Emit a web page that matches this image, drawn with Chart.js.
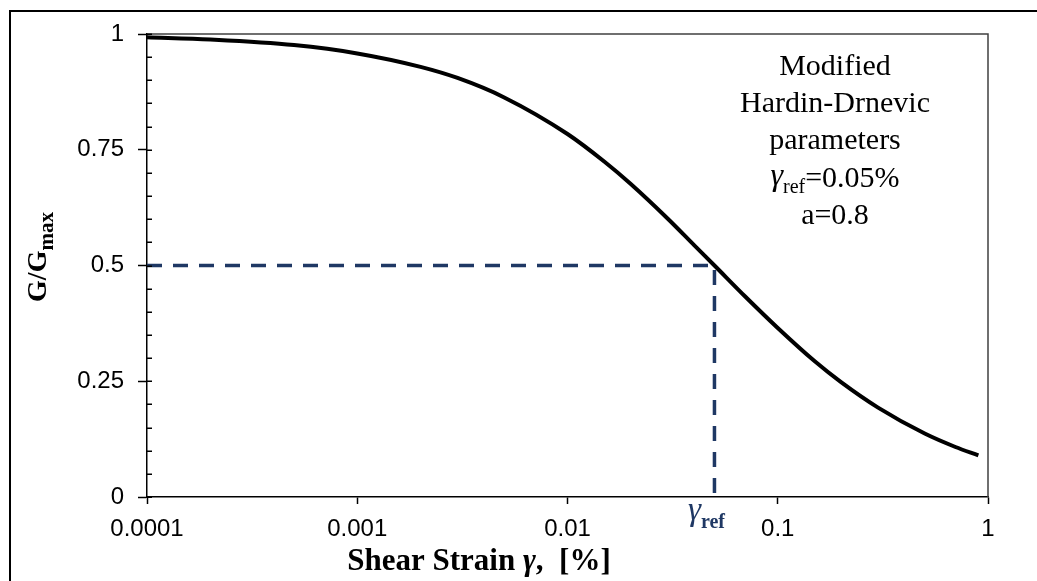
<!DOCTYPE html>
<html>
<head>
<meta charset="utf-8">
<script src="https://cdn.jsdelivr.net/npm/chart.js@4"></script>
<style>
  html, body { margin: 0; padding: 0; background: #fff; }
  #wrap { width: 1037px; height: 581px; }
</style>
</head>
<body>
<div id="wrap"><canvas id="myChart" width="1037" height="581"></canvas></div>
<script>
// values
const strain = [0.0001, 0.0002, 0.0005, 0.001, 0.002, 0.003, 0.005, 0.01, 0.015, 0.02, 0.03, 0.04, 0.05, 0.07, 0.1, 0.15, 0.2, 0.3, 0.5, 0.7, 0.9];
const ratio = [0.993, 0.988, 0.976, 0.958, 0.929, 0.905, 0.863, 0.784, 0.724, 0.676, 0.601, 0.544, 0.5, 0.433, 0.365, 0.293, 0.248, 0.193, 0.137, 0.108, 0.09];
const refStrain = [0.0001, 0.05, 0.05];
const refRatio = [0.5, 0.5, 0];
const xTickValues = [0.0001, 0.001, 0.01, 0.1, 1];
const xTickLabels = ['0.0001', '0.001', '0.01', '0.1', '1'];
const yTickLabels = ['0', '0.25', '0.5', '0.75', '1'];
const noteLines = ['Modified', 'Hardin-Drnevic', 'parameters'];
const noteRef = '=0.05%';
const noteA = 'a=0.8';

const SERIF = '"Liberation Serif", "Times New Roman", serif';
const SANS = '"Liberation Sans", Arial, sans-serif';
const NAVY = '#1f3864';

function isMajor(v) {
  return Math.abs(v * 4 - Math.round(v * 4)) < 1e-6;
}

// draw a row of text pieces with different fonts
function drawRuns(ctx, runs, x, y, align) {
  let total = 0;
  runs.forEach((r) => {
    ctx.font = r.font;
    r.w = ctx.measureText(r.text).width;
    total += r.w;
  });
  let cx = align === 'center' ? x - total / 2 : x;
  ctx.textAlign = 'left';
  ctx.textBaseline = 'alphabetic';
  runs.forEach((r) => {
    ctx.font = r.font;
    ctx.fillText(r.text, cx, y + (r.dy || 0));
    cx += r.w;
  });
}

const decor = {
  id: 'decor',
  beforeDraw(chart) {
    const ctx = chart.ctx;
    ctx.save();
    ctx.fillStyle = '#fff';
    ctx.fillRect(0, 0, chart.width, chart.height);
    // outer frame (left + top visible)
    ctx.strokeStyle = '#000';
    ctx.lineWidth = 2;
    ctx.beginPath();
    ctx.moveTo(10, chart.height + 2);
    ctx.lineTo(10, 11);
    ctx.lineTo(chart.width + 2, 11);
    ctx.stroke();
    ctx.restore();
  },
  afterDraw(chart) {
    const ctx = chart.ctx;
    const a = chart.chartArea;
    const y = chart.scales.y;
    const x = chart.scales.x;
    ctx.save();
    // plot box top + right
    ctx.strokeStyle = '#404040';
    ctx.lineWidth = 1.5;
    ctx.beginPath();
    ctx.moveTo(a.left, a.top);
    ctx.lineTo(a.right, a.top);
    ctx.lineTo(a.right, a.bottom);
    ctx.stroke();
    // inner y ticks every 0.05
    ctx.strokeStyle = '#000';
    ctx.beginPath();
    y.ticks.forEach((t) => {
      const py = Math.round(y.getPixelForValue(t.value)) + 0.25;
      ctx.moveTo(a.left, py);
      ctx.lineTo(a.left + 5, py);
    });
    ctx.stroke();

    // y axis title
    ctx.fillStyle = '#000';
    ctx.save();
    ctx.translate(46, 257);
    ctx.rotate(-Math.PI / 2);
    drawRuns(ctx, [
      { text: 'G/G', font: 'bold 28px ' + SERIF },
      { text: 'max', font: 'bold 21px ' + SERIF, dy: 7 }
    ], 0, 0, 'center');
    ctx.restore();

    // x axis title
    drawRuns(ctx, [
      { text: 'Shear Strain ', font: 'bold 31px ' + SERIF },
      { text: 'γ', font: 'italic bold 31px ' + SERIF },
      { text: ',  [%]', font: 'bold 31px ' + SERIF }
    ], 479, 570, 'center');

    // gamma_ref marker under the axis
    ctx.fillStyle = NAVY;
    drawRuns(ctx, [
      { text: 'γ', font: 'italic 33px ' + SERIF },
      { text: 'ref', font: 'bold 20px ' + SERIF, dy: 8 }
    ], x.getPixelForValue(0.05) - 8, 520, 'center');

    // parameter note
    ctx.fillStyle = '#000';
    const nx = 835;
    noteLines.forEach((s, i) => {
      drawRuns(ctx, [{ text: s, font: '30px ' + SERIF }], nx, 75 + i * 37, 'center');
    });
    drawRuns(ctx, [
      { text: 'γ', font: 'italic 32px ' + SERIF, dy: -2 },
      { text: 'ref', font: '20px ' + SERIF, dy: 6 },
      { text: noteRef, font: '30px ' + SERIF }
    ], nx, 187, 'center');
    drawRuns(ctx, [{ text: noteA, font: '30px ' + SERIF }], nx, 224, 'center');
    ctx.restore();
  }
};

const chart = new Chart(document.getElementById('myChart').getContext('2d'), {
  type: 'scatter',
  data: {
    datasets: [
      {
        label: 'G/Gmax',
        data: strain.map((s, i) => ({ x: s, y: ratio[i] })),
        showLine: true,
        borderColor: '#000',
        borderWidth: 4,
        pointRadius: 0,
        cubicInterpolationMode: 'monotone',
        clip: false,
        order: 0
      },
      {
        label: 'ref',
        data: refStrain.map((s, i) => ({ x: s, y: refRatio[i] })),
        showLine: true,
        borderColor: NAVY,
        borderWidth: 3.5,
        borderDash: [15, 11],
        pointRadius: 0,
        clip: false,
        order: 1
      }
    ]
  },
  options: {
    responsive: false,
    animation: false,
    devicePixelRatio: 1,
    layout: { padding: { left: 0, top: 34, right: 49, bottom: 0 } },
    plugins: {
      legend: { display: false },
      tooltip: { enabled: false }
    },
    scales: {
      x: {
        type: 'logarithmic',
        min: 0.0001,
        max: 1,
        afterBuildTicks: (s) => {
          s.ticks = xTickValues.map((v) => ({ value: v }));
        },
        afterFit: (s) => { s.height = 84; },
        border: { display: true, color: '#000', width: 1.5 },
        grid: {
          drawOnChartArea: false,
          drawTicks: true,
          tickLength: 7,
          tickColor: '#000',
          tickWidth: 1.5
        },
        ticks: {
          autoSkip: false,
          maxRotation: 0,
          padding: 11,
          color: '#000',
          font: { family: SANS, size: 24 },
          callback: (v, i) => xTickLabels[i]
        }
      },
      y: {
        type: 'linear',
        min: 0,
        max: 1,
        afterFit: (s) => { s.width = 147; },
        border: { display: true, color: '#000', width: 1.5 },
        grid: {
          drawOnChartArea: false,
          drawTicks: true,
          tickLength: 9,
          tickWidth: 1.5,
          tickColor: (c) => (isMajor(c.tick.value) ? '#000' : 'rgba(0,0,0,0)')
        },
        ticks: {
          stepSize: 0.05,
          autoSkip: false,
          padding: 14,
          color: '#000',
          font: { family: SANS, size: 24 },
          callback: (v) => (isMajor(v) ? yTickLabels[Math.round(v * 4)] : '')
        }
      }
    }
  },
  plugins: [decor]
});
</script>
</body>
</html>
